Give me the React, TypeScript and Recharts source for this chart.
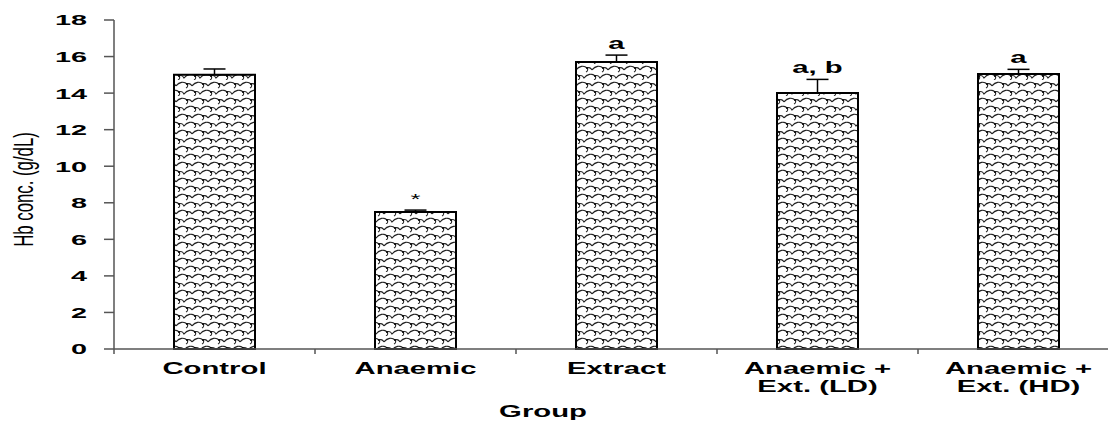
import { BarChart, Bar, XAxis, YAxis, ErrorBar, LabelList } from 'recharts'

const groups = ['Control', 'Anaemic', 'Extract', 'Anaemic +\nExt. (LD)', 'Anaemic +\nExt. (HD)']
const hbMeans = [15.0, 7.5, 15.7, 14.0, 15.05]
const hbErrors = [0.32, 0.1, 0.38, 0.75, 0.25]
const sigLabels = ['', '*', 'a', 'a, b', 'a']
const yTicks = [0, 2, 4, 6, 8, 10, 12, 14, 16, 18]

const FONT = "'Liberation Sans', Arial, Helvetica, sans-serif"
const STRETCH = 1.83
const PLOT_H = 329
const Y_MAX = 18

const data = groups.map((g, i) => ({
  group: g,
  hb: hbMeans[i],
  err: [0, hbErrors[i]],
  sig: sigLabels[i],
}))

function YTick({ y, payload }: any) {
  return (
    <g transform={`translate(87,${y}) scale(1.92,1)`}>
      <text textAnchor="end" dy="0.36em" fontFamily={FONT} fontWeight="bold" fontSize={15} fill="#000">
        {payload.value}
      </text>
    </g>
  )
}

function XTick({ x, payload }: any) {
  const lines = String(payload.value).split('\n')
  return (
    <g>
      <line x1={x - 100.5} x2={x - 100.5} y1={349} y2={354} stroke="#555" strokeWidth={1.5} />
      <g transform={`translate(${x},0) scale(${STRETCH},1)`}>
        <text textAnchor="middle" fontFamily={FONT} fontWeight="bold" fontSize={16} fill="#000">
          {lines.map((l, i) => (
            <tspan key={i} x={0} y={374 + i * 18}>{l}</tspan>
          ))}
        </text>
      </g>
    </g>
  )
}

function GroupLabel() {
  return (
    <g transform={`translate(543,417) scale(${STRETCH},1)`}>
      <text textAnchor="middle" fontFamily={FONT} fontWeight="bold" fontSize={16} fill="#000">Group</text>
    </g>
  )
}

function HbLabel() {
  return (
    <g transform="translate(33,189.5) scale(1.7,1) rotate(-90)">
      <text textAnchor="middle" fontFamily={FONT} fontSize={16.8} fill="#000">Hb conc. (g/dL)</text>
    </g>
  )
}

function SigLabel({ x, y, width, value, index }: any) {
  if (!value) return null
  const errTop = y - hbErrors[index] * (PLOT_H / Y_MAX)
  const star = value === '*'
  return (
    <g transform={`translate(${x + width / 2},${errTop - 6}) scale(${STRETCH},1)`}>
      <text
        textAnchor="middle"
        fontFamily={FONT}
        fontWeight={star ? 'normal' : 'bold'}
        fontSize={star ? 14 : 16}
        fill="#000"
      >
        {value}
      </text>
    </g>
  )
}

export default function App() {
  return (
    <div style={{ position: 'absolute', left: 0, top: 0, width: 1108, height: 426, overflow: 'hidden', background: '#fff' }}>
      <BarChart width={1130} height={426} data={data} margin={{ top: 20, right: 11, bottom: 0, left: 0 }}>
        <defs>
          <pattern id="scales" width="16" height="16" patternUnits="userSpaceOnUse">
            <rect width="16" height="16" fill="#fff" />
            <path
              d="M0,6 C3,2 8,1 11,4 C12,5 12,7 10,8 M11,4 C13,3 15,4 16,6"
              fill="none" stroke="#222" strokeWidth={1.1}
            />
            <path
              d="M-8,14 C-5,10 0,9 3,12 C4,13 4,15 2,16 M3,12 C5,11 7,12 8,14 C11,10 16,9 19,12 C20,13 20,15 18,16"
              fill="none" stroke="#222" strokeWidth={1.1}
            />
            <circle cx="11" cy="4" r="1" fill="#000" />
            <circle cx="3" cy="12" r="1" fill="#000" />
          </pattern>
        </defs>
        <XAxis
          dataKey="group"
          height={77}
          interval={0}
          tickLine={false}
          axisLine={{ stroke: '#555', strokeWidth: 1.5 }}
          tick={<XTick />}
          label={<GroupLabel />}
        />
        <YAxis
          domain={[0, Y_MAX]}
          ticks={yTicks}
          width={114}
          tickSize={10}
          tickLine={{ stroke: '#555', strokeWidth: 1.5 }}
          axisLine={{ stroke: '#555', strokeWidth: 1.5 }}
          tick={<YTick />}
          label={<HbLabel />}
        />
        <Bar dataKey="hb" fill="url(#scales)" stroke="#000" strokeWidth={2} barSize={81} isAnimationActive={false}>
          <ErrorBar dataKey="err" width={11} stroke="#000" strokeWidth={1.5} direction="y" isAnimationActive={false} />
          <LabelList dataKey="sig" content={<SigLabel />} />
        </Bar>
      </BarChart>
    </div>
  )
}
